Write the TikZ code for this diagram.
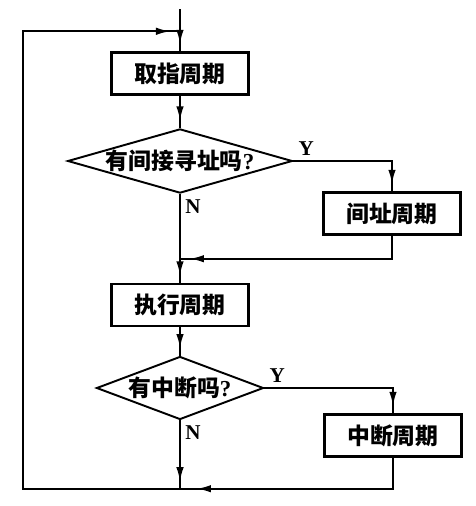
\documentclass[tikz,border=0pt]{standalone}
\usepackage{fontspec}
\usepackage{tikz}
\usetikzlibrary{shapes.geometric,arrows.meta,decorations.markings}
\newfontfamily\cjk{Noto Sans CJK SC}
\newfontfamily\latin{Liberation Serif}

\begin{document}
\begin{tikzpicture}[node distance=1.75cm,
    phase/.style={rectangle, draw, line width=1.4pt, minimum width=2.74cm, minimum height=0.84cm, font=\cjk\bfseries\fontsize{13}{15}\selectfont},
    query/.style={diamond, draw, line width=1.1pt, inner sep=0pt, font=\cjk\bfseries\fontsize{13}{15}\selectfont},
    flow/.style={line width=1pt, postaction={decorate}, decoration={markings, mark=at position #1 with {\arrow{Latex[length=2.8mm,width=1.5mm]}}}},
    flow/.default=-1.5mm,
    yn/.style={font=\latin\bfseries\fontsize{12}{14}\selectfont, inner sep=2.5pt}]
    \useasboundingbox (-3.6,1.47) rectangle (5.92,-8.65);

    \node[phase] (fetch) {取指周期};
    \node[query, aspect=3.5, minimum width=4.4cm, minimum height=1.24cm, below of=fetch] (indirect) {有间接寻址吗{\latin ?}};
    \node[phase, right of=indirect, xshift=2.49cm, yshift=-1.05cm] (addr) {间址周期};
    \node[phase, below of=indirect, yshift=-1.13cm] (exec) {执行周期};
    \node[query, aspect=2.6, minimum width=3.34cm, minimum height=1.26cm, below of=exec, yshift=0.09cm] (intr) {有中断吗{\latin ?}};
    \node[phase, right of=intr, xshift=2.51cm, yshift=-0.95cm] (irq) {中断周期};

    \coordinate (start) at ([yshift=0.84cm]fetch.north);
    \coordinate (merge) at ([yshift=0.4cm]fetch.north);
    \coordinate (corner) at ([xshift=-3.14cm]merge);
    \coordinate (back1) at ([yshift=-0.46cm]addr.south);
    \coordinate (back2) at ([yshift=-0.62cm]irq.south);
    \coordinate (bottom) at (back2 -| intr);

    \draw[flow] (start) -- (fetch);
    \draw[flow] (fetch) -- (indirect);
    \draw[flow] (indirect.east) node[yn, anchor=south west] {Y} -| (addr.north);
    \draw[flow] (indirect.south) node[yn, anchor=north west] {N} -- (exec);
    \draw[flow=-2mm] (addr.south) -- (back1) -- (back1 -| exec);
    \draw[flow] (exec) -- (intr);
    \draw[flow] (intr.east) node[yn, anchor=south west] {Y} -| (irq.north);
    \draw[flow] (intr.south) node[yn, anchor=north west] {N} -- (bottom);
    \draw[flow=-3.4mm] (irq.south) |- (bottom);
    \draw[flow=-2mm] (bottom) -| (corner) -- (merge);
\end{tikzpicture}
\end{document}
